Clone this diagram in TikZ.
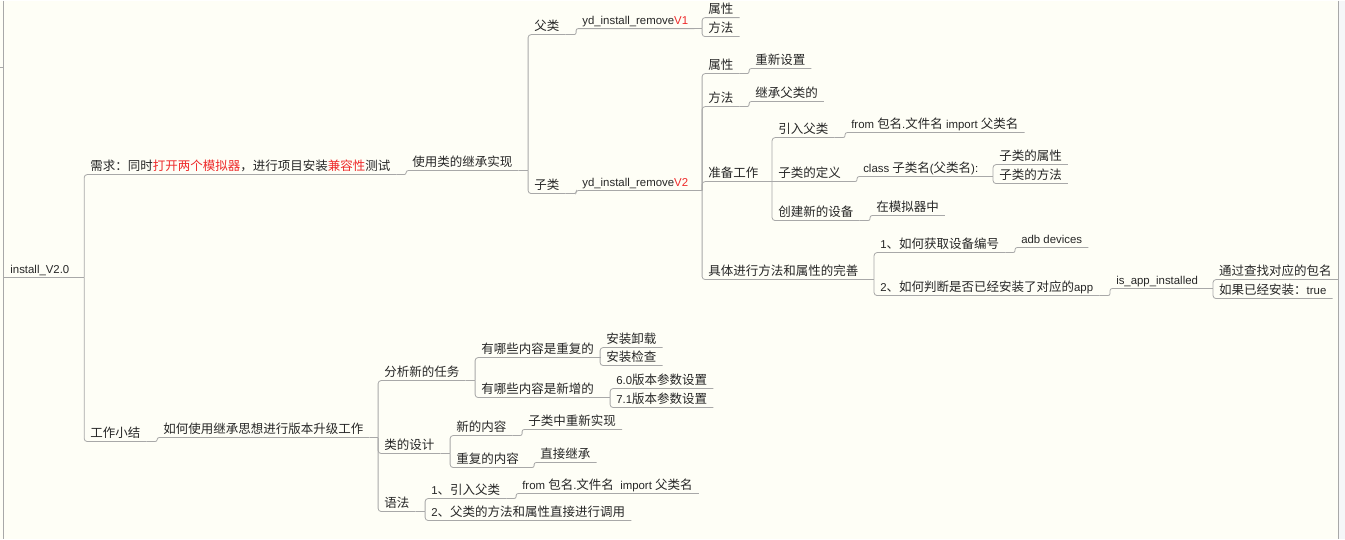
\documentclass[tikz,border=0pt]{standalone}
\usepackage{fontspec}
\setmainfont{Liberation Sans}
\newfontfamily\cjk{Noto Sans CJK SC}
\newfontfamily\latf{Liberation Sans}[Scale=0.912]
\newcommand\lat[1]{{\latf #1}}
\definecolor{paper}{HTML}{FEFEF6}
\definecolor{margin}{HTML}{F5F6F8}
\definecolor{wire}{HTML}{A8A8A8}
\definecolor{ink}{HTML}{262626}
\definecolor{hot}{HTML}{EE2A2A}
\newcommand\hot[1]{\textcolor{hot}{#1}}

\begin{document}
\begin{tikzpicture}[x=1pt,y=-1pt,
	topic/.style={anchor=south west, inner xsep=6pt, inner ysep=1.5pt,
		text height=9.5pt, text depth=2.5pt, font=\fontsize{12.5pt}{15pt}\cjk, text=ink},
	link/.style={draw=wire, line width=0.8pt, rounded corners=3pt},
	hop/.style={link, rounded corners=2pt}]
%
	\fill[paper] (0,0) rectangle (1345,538);
	\fill[margin] (1339,0) rectangle (1345,538);
	\draw[wire, line width=1.2pt] (3.5,0) -- (3.5,538);
	\draw[wire] (0,67) -- (3.5,67);
	\draw[wire, line width=1.2pt] (1338.5,0) -- (1338.5,538);
	\useasboundingbox (0,0) rectangle (1345,538);
%
	\node[topic] (root) at (4,277) {\lat{install\_V2.0}};
	\node[topic] (need) at (84,174) {需求：同时\hot{打开两个模拟器}，进行项目安装\hot{兼容性}测试};
	\node[topic] (summ) at (84,441) {工作小结};
	\node[topic] (impl) at (406,170) {使用类的继承实现};
	\node[topic] (how) at (157,437) {如何使用继承思想进行版本升级工作};
%
	\node[topic] (fu) at (528,34) {父类};
	\node[topic] (zi) at (528,193) {子类};
	\node[topic] (v1) at (576,28) {\lat{yd\_install\_remove\hot{V1}}};
	\node[topic] (v2) at (576,190) {\lat{yd\_install\_remove\hot{V2}}};
	\node[topic] (v1attr) at (702,17) {属性};
	\node[topic] (v1meth) at (702,36) {方法};
%
	\node[topic] (v2attr) at (702,73) {属性};
	\node[topic] (reset) at (749,68) {重新设置};
	\node[topic] (v2meth) at (702,106) {方法};
	\node[topic] (inherit) at (749,101) {继承父类的};
	\node[topic] (prep) at (702,181) {准备工作};
	\node[topic] (imp) at (772,137) {引入父类};
	\node[topic] (fromimp) at (845,132) {\lat{from }包名\lat{.}文件名\lat{ import }父类名};
	\node[topic] (def) at (772,181) {子类的定义};
	\node[topic] (cls) at (857,176) {\lat{class }子类名\lat{(}父类名\lat{):}};
	\node[topic] (clsattr) at (993,164) {子类的属性};
	\node[topic] (clsmeth) at (993,183) {子类的方法};
	\node[topic] (dev) at (772,220) {创建新的设备};
	\node[topic] (emu) at (870,215) {在模拟器中};
	\node[topic] (perf) at (702,279) {具体进行方法和属性的完善};
	\node[topic] (q1) at (874,252) {\lat{1}、如何获取设备编号};
	\node[topic] (adb) at (1015,247) {\lat{adb devices}};
	\node[topic] (q2) at (874,295) {\lat{2}、如何判断是否已经安装了对应的\lat{app}};
	\node[topic] (isapp) at (1110,288) {\lat{is\_app\_installed}};
	\node[topic] (find) at (1213,279) {通过查找对应的包名};
	\node[topic] (yes) at (1213,298) {如果已经安装：\lat{true}};
%
	\node[topic] (task) at (378,380) {分析新的任务};
	\node[topic] (dup) at (475,357) {有哪些内容是重复的};
	\node[topic] (uninst) at (600,347) {安装卸载};
	\node[topic] (check) at (600,365) {安装检查};
	\node[topic] (add) at (475,397) {有哪些内容是新增的};
	\node[topic] (p60) at (610,388) {\lat{6.0}版本参数设置};
	\node[topic] (p71) at (610,407) {\lat{7.1}版本参数设置};
	\node[topic] (design) at (378,453) {类的设计};
	\node[topic] (newc) at (450,435) {新的内容};
	\node[topic] (redo) at (522,429) {子类中重新实现};
	\node[topic] (same) at (450,467) {重复的内容};
	\node[topic] (direct) at (534,462) {直接继承};
	\node[topic] (syntax) at (378,511) {语法};
	\node[topic] (s1) at (425,498) {\lat{1}、引入父类};
	\node[topic] (sfrom) at (516,493) {\lat{from }包名\lat{.}文件名\lat{\ \ import }父类名};
	\node[topic] (s2) at (425,520) {\lat{2}、父类的方法和属性直接进行调用};
%
	\draw[link] (root.south west) -- (root.south east -| need.south west);
	\draw[link] (root.south east -| need.south west) |- (need.south east);
	\draw[link] (root.south east -| summ.south west) |- (summ.south east);
	\draw[hop] (need.south east) -| (impl.south west) -- (impl.south east);
	\draw[hop] (summ.south east) -| (how.south west) -- (how.south east);
%
	\draw[link] (impl.south east) -- (impl.south east -| fu.south west);
	\draw[link] (impl.south east -| fu.south west) |- (fu.south east);
	\draw[link] (impl.south east -| zi.south west) |- (zi.south east);
	\draw[hop] (fu.south east) -| (v1.south west) -- (v1.south east);
	\draw[hop] (zi.south east) -| (v2.south west) -- (v2.south east);
	\draw[link] (v1.south east) -- (v1.south east -| v1attr.south west);
	\draw[link] (v1.south east -| v1attr.south west) |- (v1attr.south east);
	\draw[link] (v1.south east -| v1meth.south west) |- (v1meth.south east);
%
	\draw[link] (v2.south east) -- (v2.south east -| prep.south west);
	\draw[link] (v2.south east -| v2attr.south west) |- (v2attr.south east);
	\draw[link] (v2.south east -| v2meth.south west) |- (v2meth.south east);
	\draw[link] (v2.south east -| prep.south west) |- (prep.south east);
	\draw[link] (v2.south east -| perf.south west) |- (perf.south east);
	\draw[hop] (v2attr.south east) -| (reset.south west) -- (reset.south east);
	\draw[hop] (v2meth.south east) -| (inherit.south west) -- (inherit.south east);
	\draw[link] (prep.south east) -- (def.south east);
	\draw[link] (prep.south east -| imp.south west) |- (imp.south east);
	\draw[link] (prep.south east -| dev.south west) |- (dev.south east);
	\draw[hop] (imp.south east) -| (fromimp.south west) -- (fromimp.south east);
	\draw[hop] (def.south east) -| (cls.south west) -- (cls.south east);
	\draw[hop] (dev.south east) -| (emu.south west) -- (emu.south east);
	\draw[link] (cls.south east) -- (cls.south east -| clsattr.south west);
	\draw[link] (cls.south east -| clsattr.south west) |- (clsattr.south east);
	\draw[link] (cls.south east -| clsmeth.south west) |- (clsmeth.south east);
	\draw[link] (perf.south east) -- (perf.south east -| q1.south west);
	\draw[link] (perf.south east -| q1.south west) |- (q1.south east);
	\draw[link] (perf.south east -| q2.south west) |- (q2.south east);
	\draw[hop] (q1.south east) -| (adb.south west) -- (adb.south east);
	\draw[hop] (q2.south east) -| (isapp.south west) -- (isapp.south east);
	\draw[link] (isapp.south east) -- (isapp.south east -| find.south west);
	\draw[link] (isapp.south east -| find.south west) |- (find.south east);
	\draw[link] (isapp.south east -| yes.south west) |- (yes.south east);
%
	\draw[link] (how.south east) -- (how.south east -| task.south west);
	\draw[link] (how.south east -| task.south west) |- (task.south east);
	\draw[link] (how.south east -| design.south west) |- (design.south east);
	\draw[link] (how.south east -| syntax.south west) |- (syntax.south east);
	\draw[link] (task.south east) -- (task.south east -| dup.south west);
	\draw[link] (task.south east -| dup.south west) |- (dup.south east);
	\draw[link] (task.south east -| add.south west) |- (add.south east);
	\draw[link] (dup.south east) -- (dup.south east -| uninst.south west);
	\draw[link] (dup.south east -| uninst.south west) |- (uninst.south east);
	\draw[link] (dup.south east -| check.south west) |- (check.south east);
	\draw[link] (add.south east) -- (add.south east -| p60.south west);
	\draw[link] (add.south east -| p60.south west) |- (p60.south east);
	\draw[link] (add.south east -| p71.south west) |- (p71.south east);
	\draw[link] (design.south east) -- (design.south east -| newc.south west);
	\draw[link] (design.south east -| newc.south west) |- (newc.south east);
	\draw[link] (design.south east -| same.south west) |- (same.south east);
	\draw[hop] (newc.south east) -| (redo.south west) -- (redo.south east);
	\draw[hop] (same.south east) -| (direct.south west) -- (direct.south east);
	\draw[link] (syntax.south east) -- (syntax.south east -| s1.south west);
	\draw[link] (syntax.south east -| s1.south west) |- (s1.south east);
	\draw[link] (syntax.south east -| s2.south west) |- (s2.south east);
	\draw[hop] (s1.south east) -| (sfrom.south west) -- (sfrom.south east);
\end{tikzpicture}
\end{document}
